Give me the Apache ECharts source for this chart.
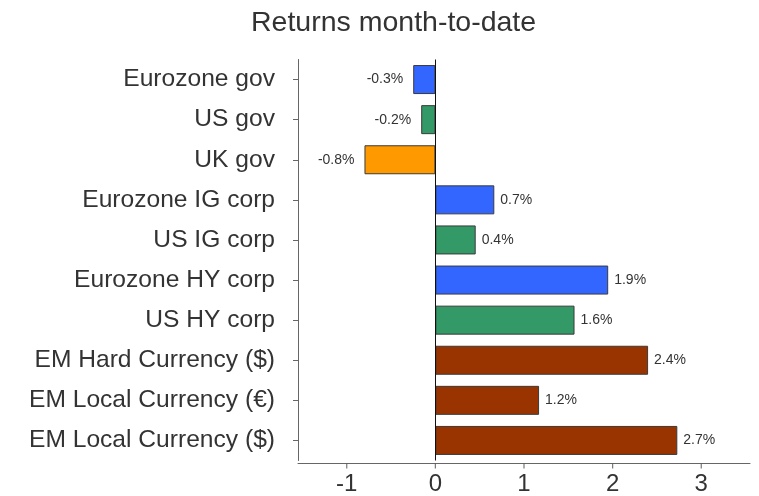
<!DOCTYPE html>
<html>
<head>
<meta charset="utf-8">
<script src="https://cdn.jsdelivr.net/npm/echarts@6/dist/echarts.min.js"></script>
<style>
html, body { margin: 0; padding: 0; background: #fff; }
#main { width: 759px; height: 496px; }
</style>
</head>
<body>
<div id="main"></div>
<script>
// categories, top to bottom
var categories = ['Eurozone gov', 'US gov', 'UK gov', 'Eurozone IG corp', 'US IG corp',
    'Eurozone HY corp', 'US HY corp', 'EM Hard Currency ($)', 'EM Local Currency (€)', 'EM Local Currency ($)'];
// returns in %
var returns = [-0.25, -0.16, -0.80, 0.665, 0.455, 1.95, 1.57, 2.40, 1.17, 2.73];
// printed labels next to the bars
var valueLabels = ['-0.3%', '-0.2%', '-0.8%', '0.7%', '0.4%', '1.9%', '1.6%', '2.4%', '1.2%', '2.7%'];
// bar colours per category
var barColors = ['#3366ff', '#339966', '#ff9900', '#3366ff', '#339966',
    '#3366ff', '#339966', '#993300', '#993300', '#993300'];
var xTicks = [-1, 0, 1, 2, 3];
var xMin = -1.55, xMax = 3.55;

var myChart = echarts.init(document.getElementById('main'));

var seriesData = [];
for (var i = 0; i < returns.length; i++) {
    var neg = returns[i] < 0;
    seriesData.push({
        value: returns[i],
        itemStyle: { color: barColors[i] },
        label: {
            position: neg ? 'left' : 'right',
            distance: neg ? 10 : 6
        }
    });
}
// x tick marks, drawn in a thin strip under the axis line
var tickData = xTicks.map(function (v) { return [v, 0]; });

var option = {
    animation: false,
    backgroundColor: '#fff',
    textStyle: { fontFamily: 'Liberation Sans, Arial, sans-serif' },
    title: {
        text: 'Returns month-to-date',
        left: 251,
        top: 9,
        padding: 0,
        textStyle: {
            fontSize: 28.5,
            fontWeight: 'normal',
            color: '#333',
            fontFamily: 'Liberation Sans, Arial, sans-serif'
        }
    },
    grid: [
        { left: 298, right: 9, top: 59.5, bottom: 35.5 },
        { left: 298, right: 9, top: 463.5, height: 5 }
    ],
    xAxis: [
        {
            type: 'value',
            gridIndex: 0,
            min: xMin,
            max: xMax,
            offset: 2.5,
            splitLine: { show: false },
            axisLine: { show: true, lineStyle: { color: '#666', width: 1 } },
            axisTick: { show: false },
            axisLabel: {
                customValues: xTicks,
                fontSize: 24,
                color: '#333',
                margin: 9
            }
        },
        {
            type: 'value',
            gridIndex: 1,
            min: xMin,
            max: xMax,
            show: false
        }
    ],
    yAxis: [
        {
            type: 'category',
            gridIndex: 0,
            data: categories,
            inverse: true,
            axisLine: { show: true, onZero: false, lineStyle: { color: '#666', width: 1 } },
            axisTick: {
                show: true,
                alignWithLabel: true,
                length: 5,
                lineStyle: { color: '#666' }
            },
            axisLabel: {
                fontSize: 24.6,
                color: '#333',
                margin: 23
            }
        },
        {
            type: 'value',
            gridIndex: 1,
            min: -1,
            max: 1,
            show: false
        }
    ],
    series: [
        {
            type: 'bar',
            xAxisIndex: 0,
            yAxisIndex: 0,
            data: seriesData,
            barWidth: 29,
            itemStyle: {
                borderColor: '#3a3a3a',
                borderWidth: 1
            },
            label: {
                show: true,
                fontSize: 14,
                color: '#333',
                formatter: function (p) {
                    return valueLabels[p.dataIndex];
                }
            },
            markLine: {
                silent: true,
                symbol: ['none', 'none'],
                label: { show: false },
                lineStyle: { color: '#111', width: 1, type: 'solid' },
                data: [{ xAxis: 0 }]
            }
        },
        {
            type: 'scatter',
            xAxisIndex: 1,
            yAxisIndex: 1,
            data: tickData,
            symbol: 'rect',
            symbolSize: [1.2, 5],
            silent: true,
            itemStyle: { color: '#555' }
        }
    ]
};

myChart.setOption(option);
window.addEventListener('resize', function () {
    myChart.resize();
});
</script>
</body>
</html>
